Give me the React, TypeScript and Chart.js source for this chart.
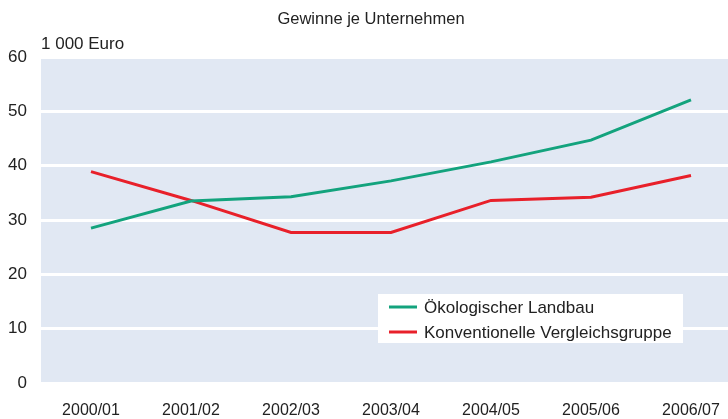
import React, { useEffect, useRef } from "react";
import { Chart, registerables } from "chart.js";

Chart.register(...registerables);

const categories = ["2000/01", "2001/02", "2002/03", "2003/04", "2004/05", "2005/06", "2006/07"];
const oekoValues = [28.5, 33.5, 34.3, 37.2, 40.7, 44.7, 52.1];
const konvValues = [38.9, 33.6, 27.7, 27.7, 33.6, 34.2, 38.2];
const seriesNames = ["Ökologischer Landbau", "Konventionelle Vergleichsgruppe"];
const yTicks = [0, 10, 20, 30, 40, 50, 60];
const titleText = "Gewinne je Unternehmen";
const unitText = "1 000 Euro";

const GREEN = "#13a37d";
const RED = "#e8202a";
const BG = "#e1e8f3";
const TEXT = "#222222";
const FONT = "'Liberation Sans', Arial, sans-serif";

const decorPlugin = {
  id: "decor",
  beforeDraw(chart: any) {
    const { ctx, chartArea } = chart;
    ctx.save();
    ctx.fillStyle = BG;
    ctx.fillRect(chartArea.left, chartArea.top, chartArea.right - chartArea.left, chartArea.bottom - chartArea.top);
    ctx.restore();
  },
  afterDraw(chart: any) {
    const { ctx, chartArea } = chart;
    ctx.save();
    ctx.fillStyle = TEXT;
    ctx.textBaseline = "alphabetic";
    ctx.font = `16.5px ${FONT}`;
    ctx.textAlign = "center";
    ctx.fillText(titleText, 371, 24);
    ctx.font = `17px ${FONT}`;
    ctx.textAlign = "left";
    ctx.fillText(unitText, chartArea.left, 49);

    // legend box
    const bx = 378, by = 294, bw = 305, bh = 49;
    ctx.fillStyle = "#ffffff";
    ctx.fillRect(bx, by, bw, bh);
    const items = chart.data.datasets;
    items.forEach((ds: any, i: number) => {
      const y = by + 13 + i * 25;
      ctx.strokeStyle = ds.borderColor;
      ctx.lineWidth = 3;
      ctx.beginPath();
      ctx.moveTo(bx + 11, y);
      ctx.lineTo(bx + 39, y);
      ctx.stroke();
      ctx.fillStyle = TEXT;
      ctx.font = `17px ${FONT}`;
      ctx.textBaseline = "middle";
      ctx.fillText(ds.label, bx + 46, y + 1);
    });
    ctx.restore();
  },
};

export default function App() {
  const canvasRef = useRef<HTMLCanvasElement | null>(null);

  useEffect(() => {
    document.body.style.margin = "0";
    const canvas = canvasRef.current;
    if (!canvas) return;
    const chart = new Chart(canvas, {
      type: "line",
      data: {
        labels: categories,
        datasets: [
          {
            label: seriesNames[0],
            data: oekoValues,
            borderColor: GREEN,
            backgroundColor: GREEN,
            borderWidth: 3,
            pointRadius: 0,
            tension: 0,
          },
          {
            label: seriesNames[1],
            data: konvValues,
            borderColor: RED,
            backgroundColor: RED,
            borderWidth: 3,
            pointRadius: 0,
            tension: 0,
          },
        ],
      },
      options: {
        animation: false,
        responsive: false,
        maintainAspectRatio: false,
        layout: { padding: { top: 57, right: 4, left: 0, bottom: 0 } },
        plugins: {
          legend: { display: false },
          title: { display: false },
          tooltip: { enabled: false },
        },
        scales: {
          x: {
            offset: true,
            grid: { display: false, drawTicks: false },
            border: { display: false },
            ticks: {
              color: TEXT,
              font: { family: FONT, size: 16 },
              padding: 18,
              maxRotation: 0,
              autoSkip: false,
            },
            afterFit(scale: any) {
              scale.height = 36;
            },
          },
          y: {
            min: 0,
            max: 60,
            afterBuildTicks(scale: any) {
              scale.ticks = yTicks.map((v) => ({ value: v }));
            },
            grid: { color: "#ffffff", lineWidth: 3, drawTicks: false },
            border: { display: false },
            ticks: {
              color: TEXT,
              font: { family: FONT, size: 17 },
              padding: 14,
            },
            afterFit(scale: any) {
              scale.width = 41;
            },
          },
        },
      },
      plugins: [decorPlugin],
    });
    return () => chart.destroy();
  }, []);

  return (
    <div style={{ width: 728, height: 419, overflow: "hidden", position: "relative" }}>
      <canvas ref={canvasRef} width={745} height={419} style={{ display: "block" }} />
    </div>
  );
}
